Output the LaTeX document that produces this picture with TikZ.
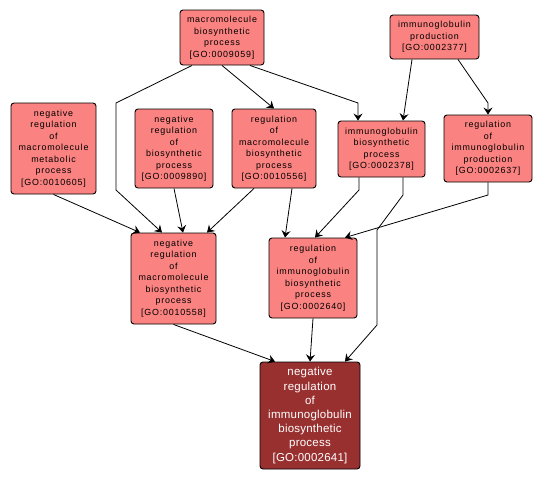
\documentclass[tikz,border=0pt]{standalone}
\usepackage{fontspec}
\newfontfamily\gofont[LetterSpace=9]{Liberation Sans}
\newfontfamily\gobigfont[LetterSpace=2]{Liberation Sans}
\usetikzlibrary{positioning,arrows.meta,calc}
\definecolor{gosalmon}{RGB}{250,130,128}
\definecolor{godark}{RGB}{153,48,48}

\begin{document}
\begin{tikzpicture}[x=1pt,y=-1pt,
    term/.style={draw=black, line width=0.9pt, fill=gosalmon, rounded corners=3pt, align=center, inner sep=0pt,
        font=\gofont\fontsize{8.9}{11.5}\selectfont},
    focus/.style={term, fill=godark, text=white, font=\gobigfont\fontsize{11.5}{14.2}\selectfont},
    link/.style={-{Stealth[length=7pt,width=9pt,inset=2.5pt]}, line width=0.8pt, black}]
        \useasboundingbox (0,0) rectangle (545,480);

        % top row
        \node[term, minimum width=84pt, minimum height=55pt] (mbp) at (222,37.5) {macromolecule\\biosynthetic\\process\\{[}GO:0009059{]}};
        \node[term, minimum width=89pt, minimum height=44pt] (igp) at (434.5,37) {immunoglobulin\\production\\{[}GO:0002377{]}};

        % middle row
        \node[term, minimum width=85pt, minimum height=91pt] (nrmmp) at (53.5,148.5) {negative\\regulation\\of\\macromolecule\\metabolic\\process\\{[}GO:0010605{]}};
        \node[term, minimum width=78pt, minimum height=79pt] (nrbp) at (174,148.5) {negative\\regulation\\of\\biosynthetic\\process\\{[}GO:0009890{]}};
        \node[term, minimum width=84pt, minimum height=79pt] (rmbp) at (274,148.5) {regulation\\of\\macromolecule\\biosynthetic\\process\\{[}GO:0010556{]}};
        \node[term, minimum width=87pt, minimum height=56pt] (igbp) at (381.5,149) {immunoglobulin\\biosynthetic\\process\\{[}GO:0002378{]}};
        \node[term, minimum width=88pt, minimum height=67pt] (rigp) at (488,148.5) {regulation\\of\\immunoglobulin\\production\\{[}GO:0002637{]}};

        % lower row
        \node[term, minimum width=85pt, minimum height=91pt] (nrmbp) at (173.5,278.5) {negative\\regulation\\of\\macromolecule\\biosynthetic\\process\\{[}GO:0010558{]}};
        \node[term, minimum width=88pt, minimum height=80pt] (rigbp) at (313,278) {regulation\\of\\immunoglobulin\\biosynthetic\\process\\{[}GO:0002640{]}};

        % the term itself
        \node[focus, minimum width=100pt, minimum height=107pt] (nrigbp) at (310,415.5) {negative\\regulation\\of\\immunoglobulin\\biosynthetic\\process\\{[}GO:0002641{]}};

        \draw[link] ($(mbp.south)+(-30,0)$) -- (116,103) -- (116,190) -- ($(nrmbp.north)+(-11.5,0)$);
        \draw[link] (mbp.south) -- (rmbp.north);
        \draw[link] ($(mbp.south)+(28,0)$) -- (358,103) -- ($(igbp.north)+(-23.5,0)$);
        \draw[link] ($(igp.south)+(-22.5,0)$) -- ($(igbp.north)+(21.5,0)$);
        \draw[link] ($(igp.south)+(23.5,0)$) -- (488,103) -- (rigp.north);
        \draw[link] (nrmmp.south) -- ($(nrmbp.north)+(-33.5,0)$);
        \draw[link] (nrbp.south) -- ($(nrmbp.north)+(9.5,0)$);
        \draw[link] ($(rmbp.south)+(-20,0)$) -- ($(nrmbp.north)+(33.5,0)$);
        \draw[link] ($(rmbp.south)+(18,0)$) -- ($(rigbp.north)+(-28,0)$);
        \draw[link] ($(igbp.south)+(-22.5,0)$) -- (359,190) -- ($(rigbp.north)+(2,0)$);
        \draw[link] (rigp.south) -- (488,195) -- ($(rigbp.north)+(32,0)$);
        \draw[link] ($(igbp.south)+(21.5,0)$) -- (403,195) -- (377,230) -- (377,325) -- ($(nrigbp.north)+(35,0)$);
        \draw[link] (nrmbp.south) -- ($(nrigbp.north)+(-35,0)$);
        \draw[link] (rigbp.south) -- (nrigbp.north);
    \end{tikzpicture}
\end{document}
